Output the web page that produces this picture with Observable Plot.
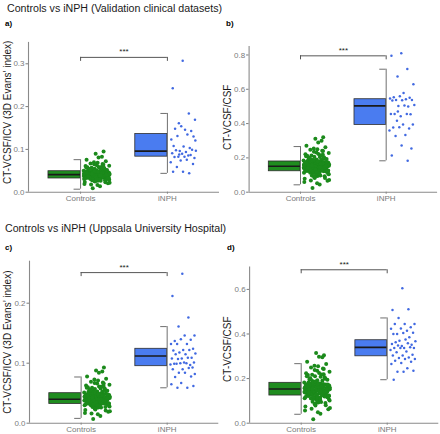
<!DOCTYPE html>
<html><head><meta charset="utf-8">
<script src="https://cdn.jsdelivr.net/npm/d3@7"></script>
<script src="https://cdn.jsdelivr.net/npm/@observablehq/plot@0.6"></script>
<style>
body{margin:0;background:#fff;font-family:"Liberation Sans",Arial,sans-serif;}
#fig{position:relative;width:440px;height:434px;overflow:hidden;background:#fff}
.t{position:absolute;font-size:10.65px;color:#1a1a1a;white-space:nowrap;line-height:12px}
.lab{position:absolute;font-size:8px;font-weight:bold;color:#000;line-height:10px}
.p{position:absolute}
</style></head><body>
<div id="fig">
  <div class="t" style="left:7px;top:2px">Controls vs iNPH (Validation clinical datasets)</div>
  <div class="lab" style="left:5px;top:19px">a)</div>
  <div class="lab" style="left:226px;top:19px">b)</div>
  <div class="t" style="left:5px;top:222px">Controls vs iNPH (Uppsala University Hospital)</div>
  <div class="lab" style="left:5px;top:243px">c)</div>
  <div class="lab" style="left:227px;top:243px">d)</div>
  <div class="p" id="pa" style="left:0;top:30px"></div>
  <div class="p" id="pb" style="left:220px;top:30px"></div>
  <div class="p" id="pc" style="left:0;top:255px"></div>
  <div class="p" id="pd" style="left:220px;top:255px"></div>
</div>
<script>
const groups = ["Controls", "iNPH"];
const titleICV = "CT-VCSF/ICV (3D Evans\u2019 index)";
const titleCSF = "CT-VCSF/CSF";

// box stats: [lower whisker, Q1, median, Q3, upper whisker]
const aBoxCtrl = [0.007, 0.032, 0.041, 0.049, 0.076];
const aBoxInph = [0.044, 0.083, 0.096, 0.136, 0.184];
const bBoxCtrl = [0.043, 0.122, 0.151, 0.179, 0.266];
const bBoxInph = [0.183, 0.392, 0.503, 0.542, 0.717];
const cBoxCtrl = [0.008, 0.032, 0.040, 0.050, 0.077];
const cBoxInph = [0.059, 0.095, 0.112, 0.124, 0.161];
const dBoxCtrl = [0.040, 0.124, 0.153, 0.181, 0.267];
const dBoxInph = [0.195, 0.300, 0.340, 0.372, 0.472];

// significance bracket heights
const aSig = 0.315, bSig = 0.795, cSig = 0.251, dSig = 0.688;

const aInph = [0.307,0.243,0.184,0.161,0.169,0.146,0.148,0.143,0.154,0.123,0.135,0.131,0.130,0.107,0.108,0.103,0.096,0.097,0.094,0.098,0.099,0.090,0.091,0.086,0.083,0.080,0.083,0.082,0.087,0.074,0.070,0.076,0.059,0.066,0.048,0.048,0.044,0.088,0.121];
const bInph = [0.810,0.796,0.718,0.674,0.629,0.579,0.553,0.551,0.559,0.546,0.542,0.538,0.538,0.536,0.534,0.499,0.503,0.509,0.505,0.456,0.454,0.443,0.456,0.456,0.417,0.394,0.394,0.377,0.371,0.379,0.359,0.334,0.328,0.254,0.272,0.214,0.184,0.470];
const cInph = [0.249,0.212,0.176,0.161,0.146,0.146,0.137,0.139,0.140,0.132,0.132,0.132,0.124,0.122,0.121,0.122,0.118,0.116,0.115,0.115,0.109,0.108,0.108,0.109,0.107,0.101,0.101,0.099,0.097,0.100,0.098,0.100,0.099,0.093,0.090,0.090,0.092,0.084,0.082,0.084,0.077,0.078,0.067,0.065,0.059,0.059,0.062];
const dInph = [0.605,0.508,0.511,0.472,0.445,0.445,0.445,0.430,0.425,0.424,0.415,0.400,0.406,0.404,0.400,0.385,0.370,0.367,0.375,0.363,0.352,0.346,0.355,0.358,0.348,0.337,0.337,0.337,0.340,0.337,0.328,0.322,0.318,0.307,0.303,0.303,0.295,0.292,0.288,0.288,0.280,0.276,0.270,0.265,0.246,0.231,0.235,0.231,0.195];

const aCtrl = [0.041,0.036,0.052,0.029,0.044,0.038,0.047,0.033,0.061,0.040,
0.035,0.043,0.027,0.050,0.039,0.045,0.031,0.056,0.037,0.042,
0.048,0.034,0.066,0.040,0.030,0.046,0.038,0.053,0.025,0.043,
0.036,0.049,0.041,0.032,0.058,0.039,0.044,0.022,0.047,0.035,
0.072,0.040,0.037,0.051,0.028,0.045,0.042,0.034,0.055,0.038,
0.019,0.046,0.041,0.033,0.063,0.039,0.048,0.030,0.043,0.036,
0.054,0.040,0.026,0.047,0.037,0.044,0.032,0.069,0.041,0.035,
0.050,0.038,0.014,0.045,0.042,0.031,0.057,0.039,0.046,0.034,
0.081,0.040,0.036,0.049,0.024,0.043,0.038,0.052,0.033,0.044,
0.060,0.037,0.041,0.029,0.047,0.035,0.090,0.042,0.039,0.051,
0.021,0.045,0.040,0.034,0.065,0.038,0.048,0.031,0.043,0.036,
0.076,0.041,0.009,0.046,0.037,0.053,0.028,0.044,0.039,0.059,
0.035,0.047,0.017,0.042,0.095,0.040,0.050,0.032,0.045,0.038,
0.039,0.044,0.034,0.049,0.041,0.030,0.046,0.037,0.055,0.042,
0.027,0.043,0.038,0.051,0.036,0.045,0.033,0.062,0.040,0.047,
0.023,0.039,0.044,0.035,0.057,0.041,0.031,0.048,0.038,0.070,
0.043,0.036,0.052,0.040,0.028,0.046,0.037,0.044,0.034,0.059,
0.042,0.039,0.050,0.032,0.045,0.018,0.041,0.047,0.036,0.064,
0.038,0.043,0.029,0.053,0.040,0.035,0.046,0.083,0.042,0.033,
0.048,0.037,0.056,0.026,0.044,0.039,0.067,0.041,0.031,0.045];

const bCtrl = [0.152,0.131,0.188,0.104,0.163,0.140,0.176,0.121,0.221,0.155,
0.128,0.160,0.095,0.184,0.145,0.168,0.114,0.205,0.137,0.158,
0.179,0.125,0.242,0.150,0.108,0.171,0.142,0.196,0.082,0.162,
0.133,0.181,0.154,0.118,0.213,0.146,0.166,0.071,0.174,0.129,
0.262,0.151,0.138,0.190,0.098,0.169,0.157,0.124,0.201,0.141,
0.060,0.172,0.153,0.120,0.232,0.144,0.178,0.110,0.161,0.135,
0.198,0.149,0.090,0.175,0.139,0.164,0.117,0.251,0.156,0.127,
0.186,0.143,0.045,0.170,0.159,0.112,0.209,0.147,0.173,0.123,
0.290,0.150,0.134,0.182,0.078,0.162,0.141,0.193,0.119,0.165,
0.218,0.136,0.154,0.101,0.177,0.130,0.312,0.158,0.146,0.187,
0.066,0.168,0.152,0.122,0.236,0.140,0.180,0.113,0.161,0.132,
0.271,0.155,0.025,0.171,0.138,0.194,0.093,0.164,0.145,0.215,
0.129,0.176,0.052,0.157,0.320,0.149,0.185,0.116,0.167,0.142,
0.148,0.163,0.127,0.183,0.152,0.111,0.170,0.139,0.207,0.157,
0.097,0.160,0.142,0.191,0.133,0.167,0.121,0.228,0.146,0.174,
0.083,0.150,0.165,0.130,0.214,0.153,0.115,0.178,0.141,0.255,
0.159,0.136,0.195,0.149,0.105,0.171,0.138,0.164,0.126,0.222,
0.155,0.144,0.185,0.120,0.166,0.068,0.151,0.176,0.134,0.240,
0.143,0.161,0.109,0.199,0.148,0.131,0.172,0.300,0.156,0.124,
0.181,0.140,0.204,0.088,0.163,0.145,0.247,0.154,0.117,0.168];

const cCtrl = [0.042,0.035,0.054,0.028,0.045,0.038,0.049,0.032,0.063,0.040,
0.034,0.044,0.026,0.052,0.039,0.046,0.030,0.058,0.037,0.043,
0.050,0.033,0.068,0.041,0.029,0.047,0.038,0.055,0.023,0.044,
0.036,0.051,0.042,0.031,0.060,0.039,0.045,0.020,0.048,0.035,
0.074,0.040,0.037,0.053,0.027,0.046,0.043,0.033,0.057,0.038,
0.017,0.047,0.041,0.032,0.066,0.039,0.049,0.029,0.044,0.036,
0.056,0.040,0.025,0.048,0.037,0.045,0.031,0.071,0.042,0.034,
0.052,0.038,0.012,0.046,0.043,0.030,0.059,0.039,0.047,0.033,
0.084,0.041,0.036,0.050,0.022,0.044,0.038,0.054,0.032,0.045,
0.062,0.037,0.042,0.028,0.048,0.035,0.088,0.043,0.039,0.053,
0.019,0.046,0.040,0.033,0.067,0.038,0.049,0.030,0.044,0.036,
0.078,0.041,0.007,0.047,0.037,0.055,0.027,0.045,0.039,0.061,
0.034,0.048,0.015,0.043,0.093,0.040,0.051,0.031,0.046,0.038,
0.040,0.045,0.033,0.050,0.042,0.029,0.047,0.036,0.057,0.043,
0.026,0.044,0.038,0.053,0.035,0.046,0.032,0.064,0.039,0.048,
0.021,0.040,0.045,0.034,0.059,0.041,0.030,0.049,0.037,0.073,
0.044,0.036,0.054,0.040,0.027,0.047,0.038,0.045,0.033,0.061,
0.043,0.039,0.051,0.031,0.046,0.016,0.042,0.048,0.035,0.066,
0.038,0.044,0.028,0.055,0.041,0.034,0.047,0.086,0.043,0.032,
0.049,0.037,0.058,0.024,0.045,0.040,0.069,0.042,0.030,0.046];

const dCtrl = [0.150,0.129,0.186,0.102,0.161,0.138,0.174,0.119,0.224,0.153,
0.126,0.158,0.093,0.182,0.143,0.166,0.112,0.208,0.135,0.156,
0.177,0.123,0.245,0.148,0.106,0.169,0.140,0.199,0.079,0.160,
0.131,0.179,0.152,0.116,0.216,0.144,0.164,0.068,0.172,0.127,
0.265,0.149,0.136,0.192,0.096,0.167,0.155,0.122,0.203,0.139,
0.057,0.170,0.151,0.118,0.235,0.142,0.176,0.108,0.159,0.133,
0.200,0.147,0.088,0.173,0.137,0.162,0.115,0.255,0.154,0.125,
0.184,0.141,0.042,0.168,0.157,0.110,0.211,0.145,0.171,0.121,
0.298,0.148,0.132,0.180,0.075,0.160,0.139,0.195,0.117,0.163,
0.220,0.134,0.152,0.099,0.175,0.128,0.315,0.156,0.144,0.189,
0.063,0.166,0.150,0.120,0.239,0.138,0.178,0.111,0.159,0.130,
0.275,0.153,0.018,0.169,0.136,0.196,0.090,0.162,0.143,0.218,
0.127,0.174,0.049,0.155,0.305,0.147,0.183,0.114,0.165,0.140,
0.146,0.161,0.125,0.181,0.150,0.109,0.168,0.137,0.210,0.155,
0.095,0.158,0.140,0.193,0.131,0.165,0.119,0.231,0.144,0.172,
0.081,0.148,0.163,0.128,0.217,0.151,0.113,0.176,0.139,0.258,
0.157,0.134,0.197,0.147,0.103,0.169,0.136,0.162,0.124,0.225,
0.153,0.142,0.187,0.118,0.164,0.065,0.149,0.174,0.132,0.243,
0.141,0.159,0.107,0.201,0.146,0.129,0.170,0.296,0.154,0.122,
0.179,0.138,0.206,0.085,0.161,0.143,0.250,0.152,0.115,0.166];

const GREEN_PT = "#1b8a1b", GREEN_BOX = "#1f8c1f", BLUE_PT = "#4169e1", BLUE_BOX = "#4a7cf0";

function panel(o) {
  const ctrlPts = o.ctrl.map((v, i) => ({g: 1, v, i}));
  const inphPts = o.inph.map((v, i) => ({g: 2, v, i}));
  // deterministic horizontal jitter (layout only)
  const jit = d => d.g + 0.035 + 0.30 * ((d.i * 0.6180339887 + (d.g === 1 ? 0.13 : 0.47)) % 1);
  const plotH = o.height - o.mt - o.mb;
  const drop = 4 * o.ymax / plotH;
  const boxes = [{g: 1, s: o.boxCtrl}, {g: 2, s: o.boxInph}];
  const box = (b, fill) => [
    Plot.rect([b], {x1: d => d.g - 0.37, x2: d => d.g, y1: d => d.s[1], y2: d => d.s[3], fill, stroke: "#2e2e2e", strokeWidth: 0.8}),
    Plot.ruleY([b], {x1: d => d.g - 0.37, x2: d => d.g, y: d => d.s[2], stroke: "#1a1a1a", strokeWidth: 1.6}),
    Plot.ruleX([b], {x: d => d.g, y1: d => d.s[0], y2: d => d.s[4], stroke: "#6e6e6e", strokeWidth: 1}),
    Plot.ruleY([b], {x1: d => d.g - 0.075, x2: d => d.g, y: d => d.s[0], stroke: "#6e6e6e", strokeWidth: 1}),
    Plot.ruleY([b], {x1: d => d.g - 0.075, x2: d => d.g, y: d => d.s[4], stroke: "#6e6e6e", strokeWidth: 1})
  ];
  return Plot.plot({
    width: o.width, height: o.height,
    marginLeft: o.ml, marginRight: o.mr, marginTop: o.mt, marginBottom: o.mb,
    style: {fontFamily: "'Liberation Sans', Arial, sans-serif", fontSize: "8px", color: "#7a7a7a", background: "transparent", overflow: "visible"},
    x: {domain: [0.4, 2.6], ticks: [1, 2], tickFormat: d => groups[d - 1], tickSize: 2, tickPadding: 1, label: null},
    y: {domain: [0, o.ymax], ticks: o.yTicks, tickFormat: d => d.toFixed(1), tickSize: 2.5, tickPadding: 1.5, label: null},
    marks: [
      Plot.dot(ctrlPts, {x: jit, y: "v", r: 2.0, fill: GREEN_PT, stroke: null}),
      Plot.dot(inphPts, {x: jit, y: "v", r: 1.25, fill: BLUE_PT, stroke: null}),
      ...box(boxes[0], GREEN_BOX),
      ...box(boxes[1], BLUE_BOX),
      Plot.ruleY([o.sig], {x1: 1, x2: 2, stroke: "#555", strokeWidth: 1}),
      Plot.ruleX([1, 2], {y1: o.sig - drop, y2: o.sig, stroke: "#555", strokeWidth: 1}),
      Plot.text(["***"], {x: 1.5, y: o.sig, dy: -3, fontSize: 8, fill: "#222", lineAnchor: "bottom"}),
      Plot.ruleX([0.4], {stroke: "#8a8a8a", strokeWidth: 1.1}),
      Plot.ruleY([0], {stroke: "#8a8a8a", strokeWidth: 1.1}),
      Plot.text([o.title], {frameAnchor: "left", textAnchor: "middle", rotate: -90, dx: o.tdx, dy: o.tdy, fontSize: 10, fill: "#1a1a1a"})
    ]
  });
}

document.getElementById("pa").append(panel({ctrl: aCtrl, inph: aInph, boxCtrl: aBoxCtrl, boxInph: aBoxInph, sig: aSig,
  ymax: 0.35, yTicks: [0, 0.1, 0.2, 0.3], title: titleICV,
  width: 220, height: 175.7, ml: 28, mr: 1, mt: 11.9, mb: 14, tdx: -21, tdy: -5}));
document.getElementById("pb").append(panel({ctrl: bCtrl, inph: bInph, boxCtrl: bBoxCtrl, boxInph: bBoxInph, sig: bSig,
  ymax: 0.85, yTicks: [0, 0.2, 0.4, 0.6, 0.8], title: titleCSF,
  width: 220, height: 175.7, ml: 28.6, mr: 2.9, mt: 15.9, mb: 14, tdx: -21.5, tdy: -2}));
document.getElementById("pc").append(panel({ctrl: cCtrl, inph: cInph, boxCtrl: cBoxCtrl, boxInph: cBoxInph, sig: cSig,
  ymax: 0.27, yTicks: [0, 0.1, 0.2], title: titleICV,
  width: 220, height: 178.7, ml: 29, mr: 1.7, mt: 5.7, mb: 11, tdx: -21.7, tdy: 0}));
document.getElementById("pd").append(panel({ctrl: dCtrl, inph: dInph, boxCtrl: dBoxCtrl, boxInph: dBoxInph, sig: dSig,
  ymax: 0.7, yTicks: [0, 0.2, 0.4, 0.6], title: titleCSF,
  width: 220, height: 178.7, ml: 29.1, mr: 1.7, mt: 11.6, mb: 11, tdx: -21.8, tdy: 4}));
</script>
</body></html>
